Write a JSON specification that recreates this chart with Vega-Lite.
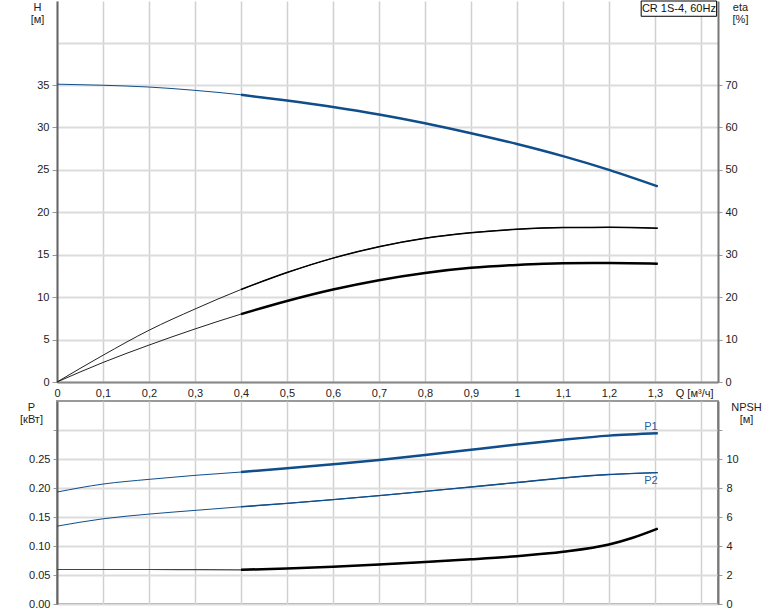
{
  "$schema": "https://vega.github.io/schema/vega-lite/v6.json",
  "padding": {"left": 18, "top": 0, "right": 0, "bottom": 0},
  "background": "white",
  "spacing": 2,
  "config": {
    "font": "Liberation Sans",
    "view": {"stroke": null},
    "axis": {
      "labelFont": "Liberation Sans", "labelFontSize": 11, "labelColor": "#222",
      "titleFont": "Liberation Sans", "titleFontSize": 11, "titleFontWeight": "normal", "titleColor": "#222",
      "domainColor": "#777", "domainWidth": 2, "tickColor": "#999", "gridColor": "#d6d6d6",
      "labelOverlap": false, "labelFlush": false, "labelBound": false, "labelSeparation": 0
    },
    "line": {"interpolate": "monotone"}
  },
  "datasets": {
    "curves": [
      {"curve": "H", "q": 0, "v": 35.1}, {"curve": "H", "q": 0.1, "v": 34.97}, {"curve": "H", "q": 0.2, "v": 34.76}, {"curve": "H", "q": 0.3, "v": 34.37}, {"curve": "H", "q": 0.4, "v": 33.85}, {"curve": "H", "q": 0.5, "v": 33.17}, {"curve": "H", "q": 0.6, "v": 32.41}, {"curve": "H", "q": 0.7, "v": 31.53}, {"curve": "H", "q": 0.8, "v": 30.5}, {"curve": "H", "q": 0.9, "v": 29.32}, {"curve": "H", "q": 1.0, "v": 28.05}, {"curve": "H", "q": 1.1, "v": 26.62}, {"curve": "H", "q": 1.2, "v": 25.0}, {"curve": "H", "q": 1.306, "v": 23.05},
      {"curve": "eta", "q": 0, "v": 0}, {"curve": "eta", "q": 0.1, "v": 6.3}, {"curve": "eta", "q": 0.2, "v": 12.2}, {"curve": "eta", "q": 0.3, "v": 17.2}, {"curve": "eta", "q": 0.4, "v": 21.8}, {"curve": "eta", "q": 0.5, "v": 25.8}, {"curve": "eta", "q": 0.6, "v": 29.2}, {"curve": "eta", "q": 0.7, "v": 31.9}, {"curve": "eta", "q": 0.8, "v": 33.9}, {"curve": "eta", "q": 0.9, "v": 35.2}, {"curve": "eta", "q": 1.0, "v": 36.0}, {"curve": "eta", "q": 1.1, "v": 36.4}, {"curve": "eta", "q": 1.2, "v": 36.45}, {"curve": "eta", "q": 1.306, "v": 36.25},
      {"curve": "eta_total", "q": 0, "v": 0}, {"curve": "eta_total", "q": 0.1, "v": 4.6}, {"curve": "eta_total", "q": 0.2, "v": 8.7}, {"curve": "eta_total", "q": 0.3, "v": 12.5}, {"curve": "eta_total", "q": 0.4, "v": 16.0}, {"curve": "eta_total", "q": 0.5, "v": 19.1}, {"curve": "eta_total", "q": 0.6, "v": 21.8}, {"curve": "eta_total", "q": 0.7, "v": 24.0}, {"curve": "eta_total", "q": 0.8, "v": 25.7}, {"curve": "eta_total", "q": 0.9, "v": 26.9}, {"curve": "eta_total", "q": 1.0, "v": 27.6}, {"curve": "eta_total", "q": 1.1, "v": 28.0}, {"curve": "eta_total", "q": 1.2, "v": 28.05}, {"curve": "eta_total", "q": 1.306, "v": 27.9},
      {"curve": "P1", "q": 0, "v": 0.193}, {"curve": "P1", "q": 0.1, "v": 0.2068}, {"curve": "P1", "q": 0.2, "v": 0.2149}, {"curve": "P1", "q": 0.3, "v": 0.2218}, {"curve": "P1", "q": 0.4, "v": 0.2275}, {"curve": "P1", "q": 0.5, "v": 0.2339}, {"curve": "P1", "q": 0.6, "v": 0.2408}, {"curve": "P1", "q": 0.7, "v": 0.2482}, {"curve": "P1", "q": 0.8, "v": 0.2568}, {"curve": "P1", "q": 0.9, "v": 0.266}, {"curve": "P1", "q": 1.0, "v": 0.275}, {"curve": "P1", "q": 1.1, "v": 0.2833}, {"curve": "P1", "q": 1.2, "v": 0.2903}, {"curve": "P1", "q": 1.306, "v": 0.2943},
      {"curve": "P2", "q": 0, "v": 0.1342}, {"curve": "P2", "q": 0.1, "v": 0.1469}, {"curve": "P2", "q": 0.2, "v": 0.155}, {"curve": "P2", "q": 0.3, "v": 0.1614}, {"curve": "P2", "q": 0.4, "v": 0.1676}, {"curve": "P2", "q": 0.5, "v": 0.1735}, {"curve": "P2", "q": 0.6, "v": 0.1799}, {"curve": "P2", "q": 0.7, "v": 0.1868}, {"curve": "P2", "q": 0.8, "v": 0.1942}, {"curve": "P2", "q": 0.9, "v": 0.2018}, {"curve": "P2", "q": 1.0, "v": 0.2095}, {"curve": "P2", "q": 1.1, "v": 0.2172}, {"curve": "P2", "q": 1.2, "v": 0.2232}, {"curve": "P2", "q": 1.306, "v": 0.2265},
      {"curve": "NPSH", "q": 0, "v": 2.38}, {"curve": "NPSH", "q": 0.1, "v": 2.38}, {"curve": "NPSH", "q": 0.2, "v": 2.38}, {"curve": "NPSH", "q": 0.3, "v": 2.37}, {"curve": "NPSH", "q": 0.4, "v": 2.36}, {"curve": "NPSH", "q": 0.5, "v": 2.45}, {"curve": "NPSH", "q": 0.6, "v": 2.57}, {"curve": "NPSH", "q": 0.7, "v": 2.72}, {"curve": "NPSH", "q": 0.8, "v": 2.89}, {"curve": "NPSH", "q": 0.9, "v": 3.08}, {"curve": "NPSH", "q": 1.0, "v": 3.3}, {"curve": "NPSH", "q": 1.1, "v": 3.6}, {"curve": "NPSH", "q": 1.2, "v": 4.1}, {"curve": "NPSH", "q": 1.25, "v": 4.55}, {"curve": "NPSH", "q": 1.306, "v": 5.2}
    ],
    "note": [{"label": "CR 1S-4, 60Hz"}]
  },
  "vconcat": [
    {
      "width": 661,
      "height": 381,
      "resolve": {"scale": {"y": "independent"}, "axis": {"y": "independent"}},
      "layer": [
        {
          "layer": [
            {
              "data": {"name": "curves"},
              "transform": [{"filter": "datum.curve === 'H'"}],
              "mark": {"type": "line", "color": "#104e8b", "strokeWidth": 1},
              "encoding": {
                "x": {"field": "q", "type": "quantitative", "scale": {"domain": [0, 1.437], "nice": false, "zero": false},
                  "axis": {"values": [0, 0.1, 0.2, 0.3, 0.4, 0.5, 0.6, 0.7, 0.8, 0.9, 1.0, 1.1, 1.2, 1.3, 1.4], "tickCount": 30,
                    "labelExpr": "datum.value > 1.35 ? '' : replace(format(datum.value, '.1~f'), '.', ',')",
                    "labelOverlap": false,
                    "ticks": false, "labelPadding": 5, "domainColor": "#888", "domainWidth": 2,
                    "grid": true, "gridColor": "#d0d0d0", "gridWidth": 1.5,
                    "title": "Q [м³/ч]", "titleX": 656, "titleY": 5, "titleAlign": "right", "titleBaseline": "top", "titleAnchor": null}},
                "y": {"field": "v", "type": "quantitative", "scale": {"domain": [0, 44.9], "nice": false, "zero": false},
                  "axis": {"values": [0, 5, 10, 15, 20, 25, 30, 35, 40], "tickCount": 30,
                    "labelExpr": "datum.value > 37 ? '' : format(datum.value, 'd')",
                    "labelOverlap": false,
                    "tickSize": 5, "tickColor": {"condition": {"test": "datum.value > 37", "value": "transparent"}, "value": "#999"},
                    "labelPadding": 3, "domainColor": "#666", "domainWidth": 2,
                    "grid": true, "gridColor": "#dcdcdc", "gridWidth": 2,
                    "title": ["H", "[м]"], "titleAngle": 0, "titleX": -20, "titleY": 0, "titleAlign": "center", "titleBaseline": "top", "titleLineHeight": 12.5, "titleAnchor": null}}
              }
            },
            {
              "data": {"name": "curves"},
              "transform": [{"filter": "datum.curve === 'H' && datum.q >= 0.4"}],
              "mark": {"type": "line", "color": "#104e8b", "strokeWidth": 2.5},
              "encoding": {
                "x": {"field": "q", "type": "quantitative"},
                "y": {"field": "v", "type": "quantitative"}
              }
            },
            {
              "data": {"name": "note"},
              "mark": {"type": "rect", "fill": "white", "stroke": "#000", "strokeWidth": 1},
              "encoding": {
                "x": {"datum": 1.27, "type": "quantitative"},
                "x2": {"datum": 1.434},
                "y": {"datum": 43.1, "type": "quantitative"},
                "y2": {"datum": 44.9}
              }
            },
            {
              "data": {"name": "note"},
              "mark": {"type": "text", "font": "Liberation Sans", "fontSize": 11, "color": "#111", "align": "center", "baseline": "middle"},
              "encoding": {
                "x": {"datum": 1.352, "type": "quantitative"},
                "y": {"datum": 44.0, "type": "quantitative"},
                "text": {"field": "label"}
              }
            }
          ]
        },
        {
          "layer": [
            {
              "data": {"name": "curves"},
              "transform": [{"filter": "datum.curve === 'eta' || datum.curve === 'eta_total'"}],
              "mark": {"type": "line", "color": "#222", "strokeWidth": 1},
              "encoding": {
                "x": {"field": "q", "type": "quantitative"},
                "y": {"field": "v", "type": "quantitative", "scale": {"domain": [0, 89.8], "nice": false, "zero": false},
                  "axis": {"orient": "right", "values": [0, 10, 20, 30, 40, 50, 60, 70, 80], "tickCount": 30,
                    "labelExpr": "datum.value > 75 ? '' : format(datum.value, 'd')",
                    "labelOverlap": false,
                    "tickSize": 4, "tickColor": {"condition": {"test": "datum.value > 75", "value": "transparent"}, "value": "#999"},
                    "labelPadding": 3, "grid": false, "domainColor": "#777", "domainWidth": 2,
                    "title": ["eta", "[%]"], "titleAngle": 0, "titleX": 22, "titleY": 0, "titleAlign": "center", "titleBaseline": "top", "titleLineHeight": 12.5, "titleAnchor": null}},
                "detail": {"field": "curve"}
              }
            },
            {
              "data": {"name": "curves"},
              "transform": [{"filter": "datum.curve === 'eta' && datum.q >= 0.4"}],
              "mark": {"type": "line", "color": "#000", "strokeWidth": 1.5},
              "encoding": {
                "x": {"field": "q", "type": "quantitative"},
                "y": {"field": "v", "type": "quantitative"}
              }
            },
            {
              "data": {"name": "curves"},
              "transform": [{"filter": "datum.curve === 'eta_total' && datum.q >= 0.4"}],
              "mark": {"type": "line", "color": "#000", "strokeWidth": 2.5},
              "encoding": {
                "x": {"field": "q", "type": "quantitative"},
                "y": {"field": "v", "type": "quantitative"}
              }
            }
          ]
        }
      ]
    },
    {
      "width": 661,
      "height": 203,
      "view": {"stroke": "#999", "strokeWidth": 2},
      "resolve": {"scale": {"y": "independent"}, "axis": {"y": "independent"}},
      "layer": [
        {
          "layer": [
            {
              "data": {"name": "curves"},
              "transform": [{"filter": "datum.curve === 'P1' || datum.curve === 'P2'"}],
              "mark": {"type": "line", "color": "#104e8b", "strokeWidth": 1},
              "encoding": {
                "x": {"field": "q", "type": "quantitative", "scale": {"domain": [0, 1.437], "nice": false, "zero": false},
                  "axis": {"values": [0, 0.1, 0.2, 0.3, 0.4, 0.5, 0.6, 0.7, 0.8, 0.9, 1.0, 1.1, 1.2, 1.3, 1.4], "tickCount": 30,
                    "labels": false, "ticks": false, "domain": false,
                    "grid": true, "gridColor": "#d0d0d0", "gridWidth": 1.5, "title": null}},
                "y": {"field": "v", "type": "quantitative", "scale": {"domain": [0, 0.35], "nice": false, "zero": false},
                  "axis": {"values": [0, 0.05, 0.1, 0.15, 0.2, 0.25, 0.3], "tickCount": 30,
                    "labelExpr": "datum.value > 0.27 ? '' : format(datum.value, '.2f')",
                    "labelOverlap": false,
                    "tickSize": 4, "labelPadding": 3, "domainColor": "#666", "domainWidth": 2,
                    "grid": true, "gridColor": "#dcdcdc", "gridWidth": 2,
                    "title": ["P", "[кВт]"], "titleAngle": 0, "titleX": -26, "titleY": 0, "titleAlign": "center", "titleBaseline": "top", "titleLineHeight": 12.5, "titleAnchor": null}},
                "detail": {"field": "curve"}
              }
            },
            {
              "data": {"name": "curves"},
              "transform": [{"filter": "datum.curve === 'P1' && datum.q >= 0.4"}],
              "mark": {"type": "line", "color": "#104e8b", "strokeWidth": 2.5},
              "encoding": {
                "x": {"field": "q", "type": "quantitative"},
                "y": {"field": "v", "type": "quantitative"}
              }
            },
            {
              "data": {"name": "curves"},
              "transform": [{"filter": "datum.curve === 'P2' && datum.q >= 0.4"}],
              "mark": {"type": "line", "color": "#104e8b", "strokeWidth": 1.4},
              "encoding": {
                "x": {"field": "q", "type": "quantitative"},
                "y": {"field": "v", "type": "quantitative"}
              }
            },
            {
              "data": {"name": "curves"},
              "transform": [{"filter": "datum.curve === 'P1' && datum.q > 1.3"}],
              "mark": {"type": "text", "font": "Liberation Sans", "fontSize": 11, "color": "#1f5fa0", "align": "right", "baseline": "bottom", "dy": -1},
              "encoding": {
                "x": {"field": "q", "type": "quantitative"},
                "y": {"field": "v", "type": "quantitative"},
                "text": {"field": "curve"}
              }
            },
            {
              "data": {"name": "curves"},
              "transform": [{"filter": "datum.curve === 'P2' && datum.q > 1.3"}],
              "mark": {"type": "text", "font": "Liberation Sans", "fontSize": 11, "color": "#1f5fa0", "align": "right", "baseline": "top", "dy": 2},
              "encoding": {
                "x": {"field": "q", "type": "quantitative"},
                "y": {"field": "v", "type": "quantitative"},
                "text": {"field": "curve"}
              }
            }
          ]
        },
        {
          "layer": [
            {
              "data": {"name": "curves"},
              "transform": [{"filter": "datum.curve === 'NPSH'"}],
              "mark": {"type": "line", "color": "#444", "strokeWidth": 1.2},
              "encoding": {
                "x": {"field": "q", "type": "quantitative"},
                "y": {"field": "v", "type": "quantitative", "scale": {"domain": [0, 14], "nice": false, "zero": false},
                  "axis": {"orient": "right", "values": [0, 2, 4, 6, 8, 10, 12], "tickCount": 30,
                    "labelExpr": "datum.value > 11 ? '' : format(datum.value, 'd')",
                    "labelOverlap": false,
                    "tickSize": 4, "labelPadding": 4, "grid": false, "domainColor": "#777", "domainWidth": 2,
                    "title": ["NPSH", "[м]"], "titleAngle": 0, "titleX": 28, "titleY": 0, "titleAlign": "center", "titleBaseline": "top", "titleLineHeight": 12.5, "titleAnchor": null}}
              }
            },
            {
              "data": {"name": "curves"},
              "transform": [{"filter": "datum.curve === 'NPSH' && datum.q >= 0.4"}],
              "mark": {"type": "line", "color": "#000", "strokeWidth": 2.5},
              "encoding": {
                "x": {"field": "q", "type": "quantitative"},
                "y": {"field": "v", "type": "quantitative"}
              }
            }
          ]
        }
      ]
    }
  ]
}
